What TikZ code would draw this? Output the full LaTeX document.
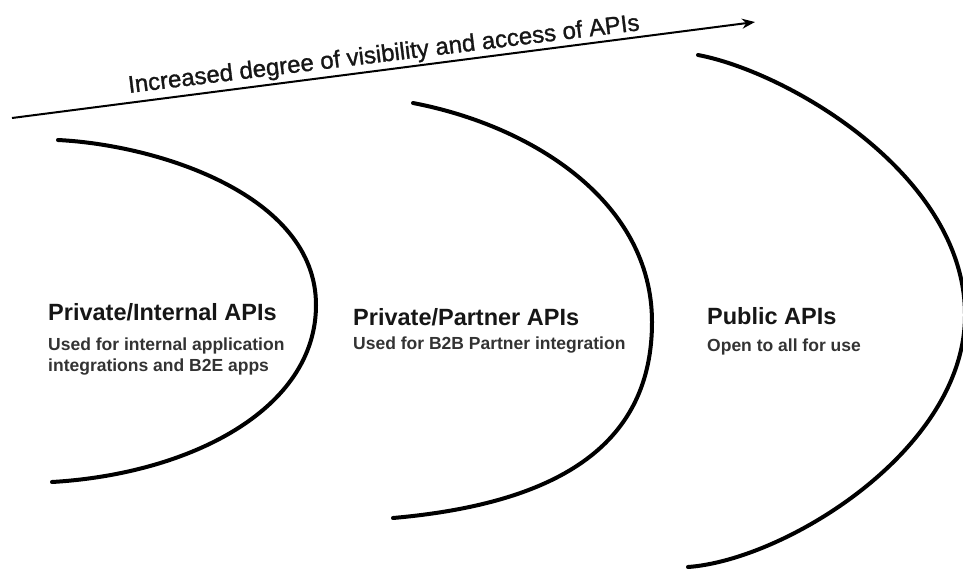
\documentclass[tikz,border=0pt]{standalone}
\usepackage{fontspec}
\setmainfont{Liberation Sans}
\usetikzlibrary{arrows.meta}
\definecolor{subgray}{HTML}{333333}
\definecolor{titleblack}{HTML}{161616}
\begin{document}
\begin{tikzpicture}[x=1pt,y=-1pt,
  arcline/.style={line width=4pt,black,line cap=round},
  toptext/.style={inner sep=0pt,anchor=base west,text=titleblack,font=\fontsize{24}{28}\selectfont\addfontfeature{FakeBold=1.2}},
  titletext/.style={inner sep=0pt,anchor=base west,text=titleblack,font=\fontsize{23.5}{28}\selectfont\bfseries},
  subtext/.style={inner sep=0pt,anchor=base west,align=left,text=subgray,font=\fontsize{17.5}{21}\selectfont\bfseries}]
\useasboundingbox (0,0) rectangle (963,570);
% arrow
\coordinate (as) at (12,118);
\coordinate (ae) at (755,22);
\draw[line width=2pt,-{Stealth[length=13pt,width=10pt]}] (as) -- (ae);
\node[toptext,rotate=7] (lbl) at (129,93) {Increased degree of visibility and access of APIs};
% arcs
\coordinate (t1) at (58,140); \coordinate (r1) at (316,305); \coordinate (b1) at (52,482);
\coordinate (t2) at (413,103); \coordinate (r2) at (652,322); \coordinate (b2) at (393,518);
\coordinate (t3) at (698,55); \coordinate (r3) at (965,315); \coordinate (b3) at (688,567);
\draw[arcline] (t1) .. controls (158,145) and (316,195) .. (r1) .. controls (316,410) and (189,474) .. (b1);
\draw[arcline] (t2) .. controls (533,126) and (652,202) .. (r2) .. controls (652,442) and (563,503) .. (b2);
\draw[arcline] (t3) .. controls (788,72) and (965,175) .. (r3) .. controls (965,450) and (785,560) .. (b3);
% labels
\node[titletext] (n1) at (48,320) {Private/Internal APIs};
\node[subtext] (s1) at (48,350) {Used for internal application};
\node[subtext] (s1b) at (48,371) {integrations and B2E apps};
\node[titletext] (n2) at (353,325) {Private/Partner APIs};
\node[subtext] (s2) at (353,349) {Used for B2B Partner integration};
\node[titletext] (n3) at (707,324) {Public APIs};
\node[subtext] (s3) at (707,351) {Open to all for use};
\end{tikzpicture}
\end{document}
